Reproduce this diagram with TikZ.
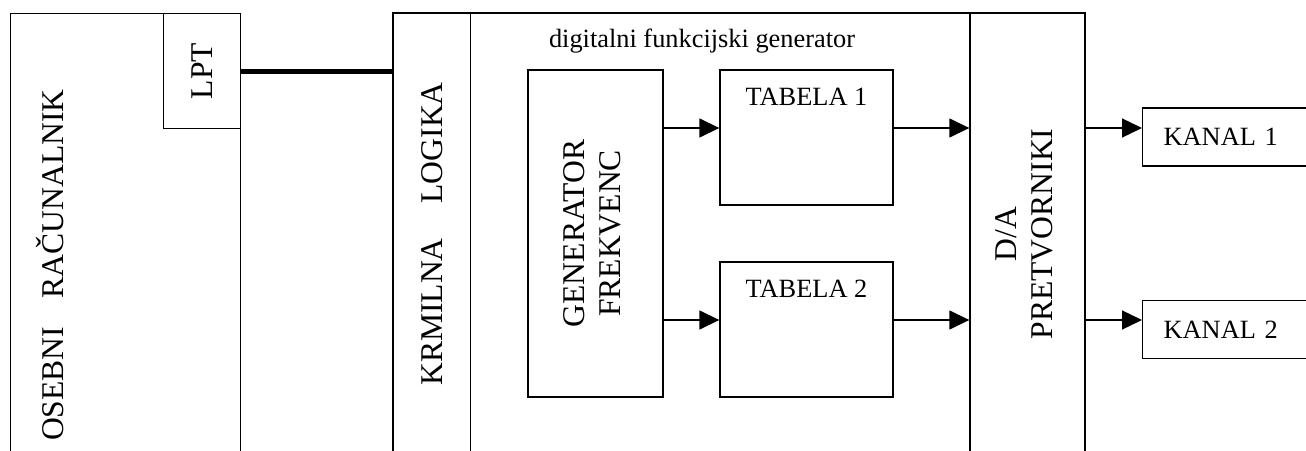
\documentclass[tikz,border=0pt]{standalone}
\usepackage{fontspec}
\setmainfont{Liberation Serif}
\usepackage{graphicx}
\usetikzlibrary{positioning,arrows.meta,calc}

\begin{document}
\begin{tikzpicture}[
  blok/.style={draw, line width=0.75pt, inner sep=0pt},
  vecji/.style={font=\fontsize{18}{20.5}\selectfont},
  manjsi/.style={font=\fontsize{15}{17}\selectfont},
  puscica/.style={line width=0.75pt, -{Triangle[length=0.4cm,width=0.38cm]}}
]
  \clip (0,0) rectangle (26.12,9);
  % osebni racunalnik z LPT vrati
  \node[blok, anchor=north west, minimum width=4.6cm, minimum height=9.2cm] (pc) at (0.2,8.74) {};
  \node[blok, vecji, anchor=north east, minimum width=1.54cm, minimum height=2.3cm]
    (lpt) at (pc.north east) {\rotatebox{90}{LPT}};
  \node[vecji, rotate=90] (pcime) at (1.0,3.7) {OSEBNI\hspace{0.9em}RAČUNALNIK};
  % digitalni funkcijski generator
  \node[blok, minimum width=13.84cm, minimum height=8.84cm] (dfg) at (14.78,4.32) {};
  \node[blok, vecji, anchor=north west, minimum width=1.554cm, minimum height=8.84cm]
    (krm) at (dfg.north west) {\rotatebox{90}{KRMILNA\hspace{1.1em}LOGIKA}};
  \node[blok, vecji, anchor=north east, minimum width=2.3cm, minimum height=8.84cm]
    (da) at (dfg.north east) {\rotatebox{90}{\begin{tabular}{@{}c@{}}D/A\\PRETVORNIKI\end{tabular}}};
  \node[manjsi] (naslov) at (14.04,8.17) {digitalni funkcijski generator};
  \node[blok, vecji, minimum width=2.7cm, minimum height=6.54cm]
    (gen) at (11.91,4.33) {\rotatebox{90}{\begin{tabular}{@{}c@{}}GENERATOR\\FREKVENC\end{tabular}}\hspace{0.74cm}};
  % tabeli
  \node[blok, minimum width=3.46cm, minimum height=2.7cm,
    label={[manjsi, anchor=north, inner sep=0pt, yshift=-0.36cm]north:TABELA 1}] (tab1) at (16.13,6.25) {};
  \node[blok, minimum width=3.46cm, minimum height=2.7cm,
    label={[manjsi, anchor=north, inner sep=0pt, yshift=-0.36cm]north:TABELA 2}] (tab2) at (16.13,2.41) {};
  % izhodni kanali
  \node[blok, manjsi, anchor=west, minimum height=1.16cm, text width=3.16cm, inner xsep=0.42cm, align=left]
    (kan1) at (22.84,6.26) {KANAL 1};
  \node[blok, manjsi, anchor=west, minimum height=1.16cm, text width=3.16cm, inner xsep=0.42cm, align=left]
    (kan2) at (22.84,2.41) {KANAL 2};
  % tocke puscic
  \coordinate (v1) at ([yshift=0.19cm]tab1.west);
  \coordinate (v2) at ([yshift=0.19cm]tab2.west);
  \coordinate (i1) at ([yshift=0.19cm]tab1.east);
  \coordinate (i2) at ([yshift=0.19cm]tab2.east);
  % puscice
  \draw[puscica] (gen.east |- v1) -- (v1);
  \draw[puscica] (gen.east |- v2) -- (v2);
  \draw[puscica] (i1) -- (da.west |- i1);
  \draw[puscica] (i2) -- (da.west |- i2);
  \draw[puscica] (da.east |- i1) -- (kan1.west |- i1);
  \draw[puscica] (da.east |- i2) -- (kan2.west |- i2);
  % LPT povezava
  \draw[line width=3pt] (lpt.east) -- (krm.west |- lpt.east);
\end{tikzpicture}
\end{document}
